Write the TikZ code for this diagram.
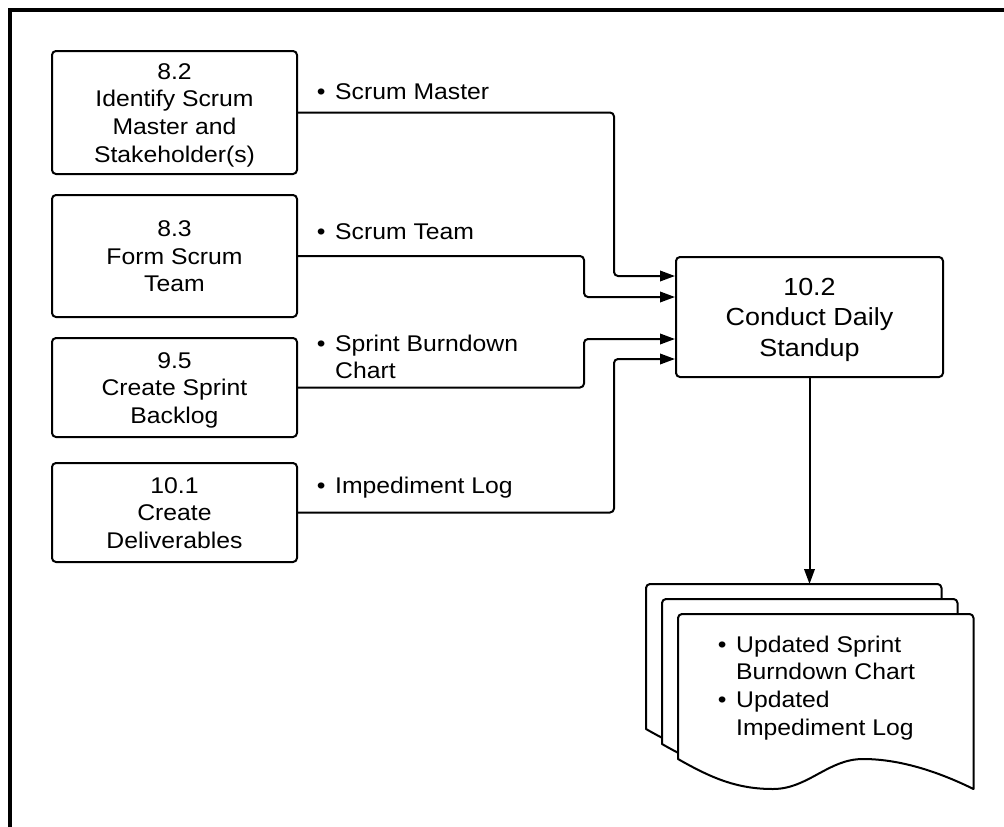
\documentclass[tikz,border=0pt]{standalone}
\usepackage{fontspec}
\setmainfont{Liberation Sans}[FakeStretch=1.09]
\usetikzlibrary{arrows.meta,calc}
\newcommand\mybul{\makebox[18.3pt][l]{•}}
\newcommand\fnorm{\fontsize{22.7pt}{27.7pt}\selectfont}
\newcommand\fbig{\fontsize{24.7pt}{30.5pt}\selectfont}
\begin{document}
\begin{tikzpicture}[x=1pt,y=-1pt,
  box/.style={draw,line width=2pt,rounded corners=4pt,rectangle,inner sep=0pt,fill=white},
  btxt/.style={font=\fnorm,inner sep=0pt},
  lbl/.style={font=\fnorm,inner sep=0pt,anchor=base west},
  conn/.style={line width=2pt,rounded corners=4pt,-{Triangle[length=15pt,width=10.5pt]}},
  doc/.style={draw,fill=white,line width=2pt,line join=round}]
\useasboundingbox (0,0) rectangle (1004,827);
\draw[line width=4pt] (10,830) -- (10,10) -- (1008,10);
% input boxes
\node[box,minimum width=245pt,minimum height=123pt] (b1) at (174.5,112.5) {};
\node[btxt] (b1t) at ($(b1.center)+(0,2.7)$) {\begin{tabular}{@{}c@{}}8.2\\Identify Scrum\\Master and\\Stakeholder(s)\end{tabular}};
\node[box,minimum width=245pt,minimum height=122pt] (b2) at (174.5,256) {};
\node[btxt] (b2t) at ($(b2.center)+(0,2.7)$) {\begin{tabular}{@{}c@{}}8.3\\Form Scrum\\Team\end{tabular}};
\node[box,minimum width=245pt,minimum height=99pt] (b3) at (174.5,387.5) {};
\node[btxt] (b3t) at ($(b3.center)+(0,2.7)$) {\begin{tabular}{@{}c@{}}9.5\\Create Sprint\\Backlog\end{tabular}};
\node[box,minimum width=245pt,minimum height=99pt] (b4) at (174.5,512.5) {};
\node[btxt] (b4t) at ($(b4.center)+(0,2.7)$) {\begin{tabular}{@{}c@{}}10.1\\Create\\Deliverables\end{tabular}};
% target
\node[box,minimum width=267pt,minimum height=120pt] (t) at (809.5,317) {};
\node[font=\fbig,inner sep=0pt] (tt) at ($(t.center)+(0,2.7)$) {\begin{tabular}{@{}c@{}}10.2\\Conduct Daily\\Standup\end{tabular}};
% connectors
\coordinate (jA) at (614,0);
\coordinate (jB) at (584,0);
\coordinate (e1) at ($(t.west)+(0,-41)$);
\coordinate (e2) at ($(t.west)+(0,-20)$);
\coordinate (e3) at ($(t.west)+(0,22)$);
\coordinate (e4) at ($(t.west)+(0,42)$);
\draw[conn] (b1.east) -| (e1 -| jA) -- (e1);
\draw[conn] (b2.east) -| (e2 -| jB) -- (e2);
\draw[conn] (b3.east) -| (e3 -| jB) -- (e3);
\draw[conn] (b4.east) -| (e4 -| jA) -- (e4);
% labels
\node[lbl] (l1) at (316.7,99) {\mybul Scrum Master};
\node[lbl] (l2) at (316.7,239) {\mybul Scrum Team};
\node[lbl] (l3) at (316.7,351) {\begin{tabular}[t]{@{}l@{}}\mybul Sprint Burndown\\\hspace*{18.3pt}Chart\end{tabular}};
\node[lbl] (l4) at (316.7,493) {\mybul Impediment Log};
% documents
\foreach \L/\T in {646/584, 662/599, 678/614} {
  \begin{scope}[shift={(\L,\T)}]
    \path[doc] (0,145) [rounded corners=4pt] -- (0,0) -- (295.5,0) [sharp corners] -- (295.5,175)
      .. controls (265,160) and (225,145) .. (185,145)
      .. controls (150,145) and (130,175) .. (95,175)
      .. controls (60,175) and (35,165) .. (0,145) -- cycle;
  \end{scope}
}
\coordinate (dtop) at (809.5,584);
\draw[conn] (t.south) -- (dtop);
\node[lbl] (dt) at (717.7,652) {\begin{tabular}[t]{@{}l@{}}\mybul Updated Sprint\\\hspace*{18.3pt}Burndown Chart\\\mybul Updated\\\hspace*{18.3pt}Impediment Log\end{tabular}};
\end{tikzpicture}
\end{document}
